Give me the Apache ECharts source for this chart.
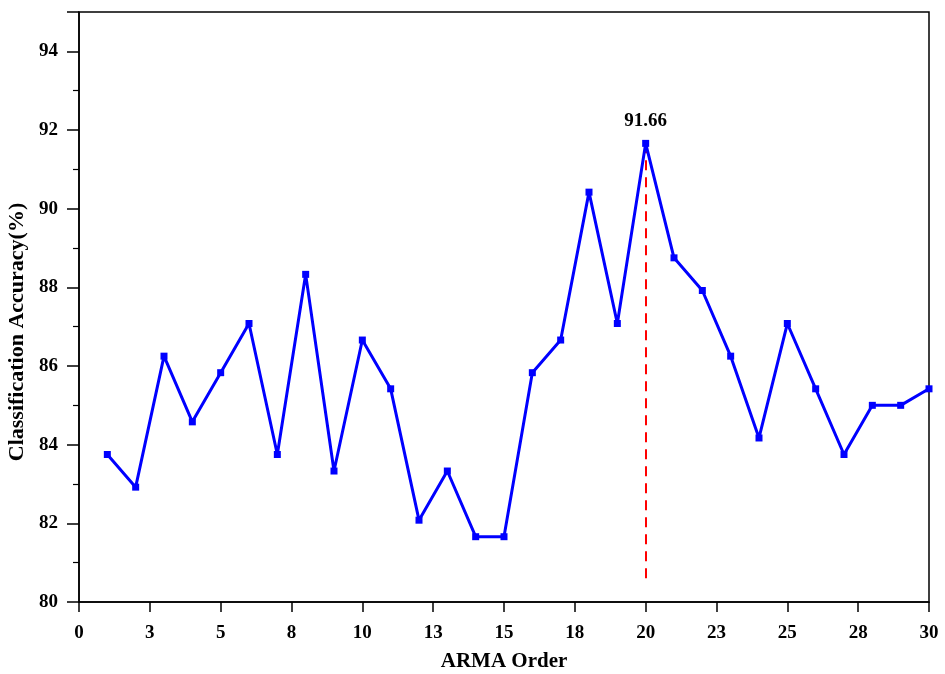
<!DOCTYPE html>
<html>
<head>
<meta charset="utf-8">
<script src="https://cdn.jsdelivr.net/npm/echarts@6/dist/echarts.min.js"></script>
<style>
  html, body { margin: 0; padding: 0; background: #fff; }
  #main { width: 945px; height: 674px; }
</style>
</head>
<body>
<div id="main"></div>
<script>
// 数据
var orders = [1,2,3,4,5,6,7,8,9,10,11,12,13,14,15,16,17,18,19,20,21,22,23,24,25,26,27,28,29,30];
var accuracy = [83.75,82.92,86.25,84.58,85.83,87.08,83.75,88.33,83.33,86.66,
                85.42,82.08,83.33,81.66,81.66,85.83,86.66,90.42,87.08,91.66,
                88.75,87.92,86.25,84.17,87.08,85.42,83.75,85.00,85.00,85.42];
var xTickLabels = ['0','3','5','8','10','13','15','18','20','23','25','28','30'];
var yTickLabels = ['80','82','84','86','88','90','92','94'];
var bestOrder = 20;
var bestValue = 91.66;

var myChart = echarts.init(document.getElementById('main'));

var seriesData = [];
for (var i = 0; i < orders.length; i++) {
    var item = { value: [orders[i], accuracy[i]] };
    if (orders[i] === bestOrder) {
        item.label = {
            show: true,
            position: 'top',
            distance: 9,
            formatter: String(bestValue),
            color: '#000',
            fontFamily: 'Liberation Serif',
            fontWeight: 'bold',
            fontSize: 19
        };
    }
    seriesData.push(item);
}

var font = 'Liberation Serif';

var option = {
    backgroundColor: '#fff',
    animation: false,
    grid: {
        left: 79, right: 16, top: 12, bottom: 72,
        outerBoundsMode: 'none',
        containLabel: false,
        show: true,
        borderColor: '#000',
        borderWidth: 1.5
    },
    xAxis: {
        type: 'value',
        min: 0,
        max: 30,
        interval: 2.5,
        name: 'ARMA Order',
        nameLocation: 'middle',
        nameGap: 49,
        nameTextStyle: { fontFamily: font, fontWeight: 'bold', fontSize: 21, color: '#000' },
        axisLine: { lineStyle: { color: '#000', width: 1.5 } },
        axisTick: { inside: false, length: 10, lineStyle: { color: '#000', width: 1.5 } },
        axisLabel: {
            margin: 22,
            color: '#000',
            fontFamily: font,
            fontWeight: 'bold',
            fontSize: 19,
            formatter: function (v) {
                return xTickLabels[Math.round(v / 2.5)];
            }
        },
        splitLine: { show: false }
    },
    yAxis: {
        type: 'value',
        min: 80,
        max: 95,
        interval: 2,
        name: 'Classification Accuracy(%)',
        nameLocation: 'middle',
        nameGap: 42,
        nameTextStyle: {
            fontFamily: font, fontWeight: 'bold', fontSize: 22, color: '#000',
            padding: [0, 50, 0, 0]
        },
        axisLine: { show: true, lineStyle: { color: '#000', width: 1.5 } },
        axisTick: { show: true, inside: false, length: 12, lineStyle: { color: '#000', width: 1.5 } },
        minorTick: { show: true, splitNumber: 2, length: 6, lineStyle: { color: '#000', width: 1.2 } },
        axisLabel: {
            margin: 21,
            color: '#000',
            fontFamily: font,
            fontWeight: 'bold',
            fontSize: 19,
            formatter: function (v) {
                var idx = Math.round((v - 80) / 2);
                return yTickLabels[idx] !== undefined ? yTickLabels[idx] : '';
            }
        },
        splitLine: { show: false }
    },
    series: [
        {
            type: 'line',
            data: seriesData,
            symbol: 'rect',
            symbolSize: 7,
            lineStyle: { color: '#0000ff', width: 3 },
            itemStyle: { color: '#0000ff' },
            z: 3,
            markLine: {
                silent: true,
                symbol: ['none', 'none'],
                label: { show: false },
                lineStyle: { color: '#ff0000', type: [10, 7], width: 2 },
                data: [[
                    { coord: [bestOrder, bestValue] },
                    { coord: [bestOrder, 80.45] }
                ]],
                z: 2
            }
        }
    ]
};
myChart.setOption(option);
</script>
</body>
</html>
